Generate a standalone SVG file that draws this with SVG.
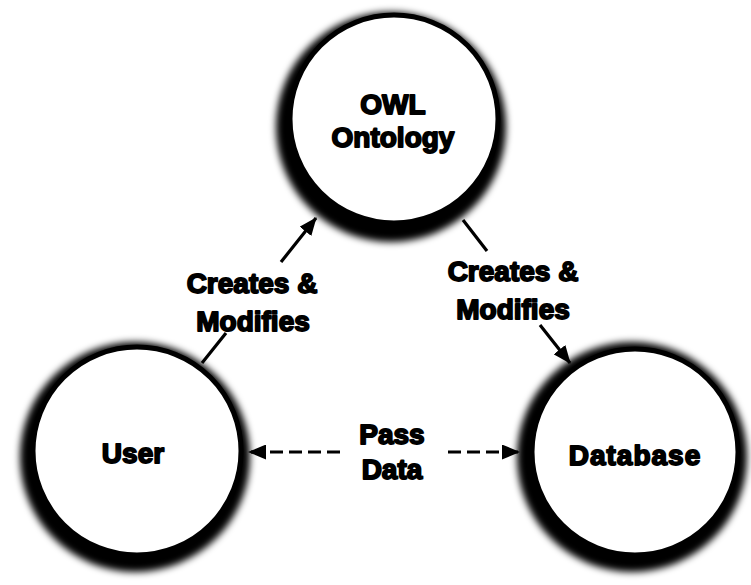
<svg xmlns="http://www.w3.org/2000/svg" width="751" height="585" viewBox="0 0 751 585">
<defs>
<style>
.shadow{fill:#000;filter:url(#blur)}
.node{fill:#fff;stroke:#000;stroke-width:5}
.lbl{font-family:"Liberation Sans",Arial,sans-serif;font-weight:bold;font-size:28px;fill:#000;stroke:#000;stroke-width:1.8;stroke-linejoin:round;text-anchor:middle}
.conn{fill:none;stroke:#000;stroke-width:3.2}
.dash{stroke-dasharray:13 6}
</style>
<filter id="blur" x="-20%" y="-20%" width="140%" height="140%">
<feGaussianBlur stdDeviation="3.5"/>
</filter>
<marker id="arrow" viewBox="0 0 18 15" refX="17" refY="7.5" markerWidth="18" markerHeight="15" markerUnits="userSpaceOnUse" orient="auto">
<path d="M0,0 L18,7.5 L0,15 z" fill="#000"/>
</marker>
</defs>
<rect width="751" height="585" fill="#fff"/>
<g id="owl-ontology">
<circle class="shadow" cx="391" cy="127" r="115"/>
<circle class="node" cx="394" cy="119" r="104"/>
<text class="lbl" x="393" y="114">OWL</text>
<text class="lbl" x="393" y="147">Ontology</text>
</g>
<g id="user">
<circle class="shadow" cx="135" cy="457" r="115"/>
<circle class="node" cx="137" cy="451" r="104"/>
<text class="lbl" x="133" y="463">User</text>
</g>
<g id="database">
<circle class="shadow" cx="632" cy="457" r="115"/>
<circle class="node" cx="635" cy="452" r="103"/>
<text class="lbl" x="635" y="465" letter-spacing="1">Database</text>
</g>
<g id="connectors">
<path class="conn" d="M202,363 L226,333 M281,262 L316,218" marker-end="url(#arrow)"/>
<path class="conn" d="M463,220 L487,251 M540,325 L570,363" marker-end="url(#arrow)"/>
<path class="conn dash" d="M340,452 L249,452" marker-end="url(#arrow)"/>
<path class="conn dash" d="M448,452 L519,452" marker-end="url(#arrow)"/>
<g id="labels">
<text class="lbl" x="252" y="293">Creates &amp;</text>
<text class="lbl" x="253" y="331">Modifies</text>
<text class="lbl" x="513" y="281">Creates &amp;</text>
<text class="lbl" x="513" y="319">Modifies</text>
<text class="lbl" x="392" y="444">Pass</text>
<text class="lbl" x="392" y="479">Data</text>
</g>
</g>
</svg>
